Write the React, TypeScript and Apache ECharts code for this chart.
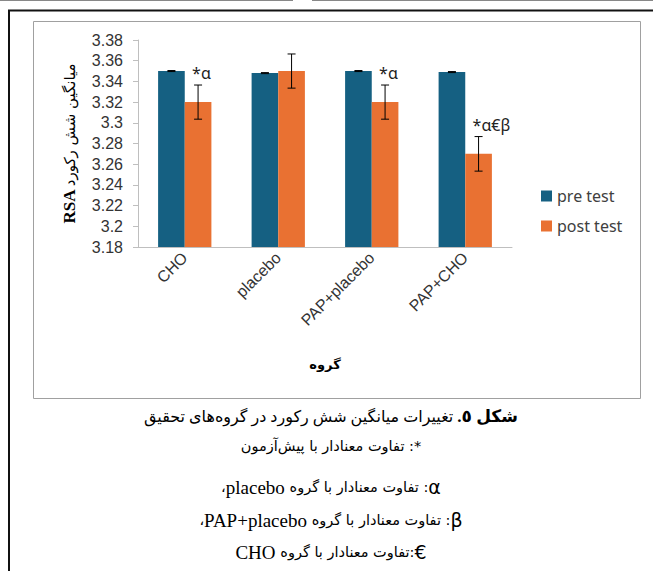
import React, { useEffect, useRef } from "react";
import * as echarts from "echarts";

const categories = ["CHO", "placebo", "PAP+placebo", "PAP+CHO"];
const preTest = [3.35, 3.348, 3.35, 3.349];
const postTest = [3.32, 3.35, 3.32, 3.27];
const preErr = [0.0005, 0.0005, 0.0005, 0.0005];
const postErr = [0.0165, 0.0165, 0.0165, 0.0167];
const postMarks = ["*α", "", "*α", "*α€β"];
const yMin = 3.18;
const yMax = 3.38;
const yStep = 0.02;
const seriesNames = ["pre test", "post test"];

const RLE = "\u202B";
const PDF = "\u202C";
const rtl = (s: string) => RLE + s + PDF;

const yTitlePersian = "میانگین شش رکورد";
const xTitle = "گروه";
const captionBold = "شکل ٥.";
const captionRest = "تغییرات میانگین شش رکورد در گروه\u200Cهای تحقیق";
const caption2 = "*: تفاوت معنادار با پیش\u200Cآزمون";
const diffWithGroup = "تفاوت معنادار با گروه";
// legend symbols and group names of the caption
const caption3 = { sym: "α", group: "placebo", tail: "،", sep: ": " };
const caption4 = { sym: "β", group: "PAP+placebo", tail: "،", sep: ": " };
const caption5 = { sym: "€", group: "CHO", tail: "", sep: ":" };

const BLUE = "#156082";
const ORANGE = "#E97132";
const CAT_GAP = 0.43;

const FA = "'DejaVu Sans'";
const SERIF = "'Liberation Serif', 'DejaVu Sans'";

export default function App() {
  const ref = useRef<HTMLDivElement>(null);

  useEffect(() => {
    document.body.style.margin = "0";
    if (!ref.current) return;
    const chart = echarts.init(ref.current, undefined, { renderer: "svg" });

    const makeErr = (vals: number[], errs: number[], side: number, marks?: string[]) => ({
      type: "custom",
      z: 5,
      silent: true,
      data: vals.map((v, i) => [i, v, errs[i]]),
      renderItem: (params: any, api: any) => {
        const idx = api.value(0);
        const v = api.value(1);
        const e = api.value(2);
        const band = api.size([1, 0])[0];
        const bw = (band * (1 - CAT_GAP)) / 2;
        const c = api.coord([idx, v]);
        const x = c[0] + (side ? bw / 2 : -bw / 2);
        const top = api.coord([idx, v + e])[1];
        const bot = api.coord([idx, v - e])[1];
        const cap = 4;
        const st = { stroke: "#000", lineWidth: 1 };
        const children: any[] = [
          { type: "line", shape: { x1: x, y1: top, x2: x, y2: bot }, style: st },
          { type: "line", shape: { x1: x - cap, y1: top, x2: x + cap, y2: top }, style: st },
          { type: "line", shape: { x1: x - cap, y1: bot, x2: x + cap, y2: bot }, style: st },
        ];
        const m = marks ? marks[params.dataIndex] : "";
        if (m) {
          children.push({
            type: "text",
            style: {
              text: m,
              x: x - 6,
              y: top - 4,
              textAlign: "left",
              textVerticalAlign: "bottom",
              fontSize: 16,
              fontFamily: "'Noto Sans', sans-serif",
              fill: "#222",
            },
          });
        }
        return { type: "group", children };
      },
    });

    const captionRich = {
      p: { fontSize: 14.5, fontFamily: FA, fill: "#000" },
      l: { fontSize: 19, fontFamily: SERIF, fill: "#000" },
      s: { fontSize: 19, fontFamily: "'DejaVu Sans'", fill: "#000" },
    };
    const groupLine = (c: { sym: string; group: string; tail: string; sep: string }) =>
      (c.tail ? "{p|" + c.tail + "}" : "") +
      "{l|" + c.group + " }" +
      "{p|" + rtl(c.sep + diffWithGroup) + "}" +
      "{s|" + c.sym + "}";

    const captionText = (text: string, y: number, rich: any) => ({
      type: "text",
      silent: true,
      style: {
        x: 331,
        y,
        text,
        textAlign: "center",
        textVerticalAlign: "middle",
        rich,
      },
    });

    const option: any = {
      animation: false,
      backgroundColor: "#fff",
      grid: { left: 138, right: 141, top: 40, bottom: 324, containLabel: false },
      legend: {
        data: seriesNames,
        orient: "vertical",
        left: 536,
        top: 183,
        itemWidth: 11,
        itemHeight: 11,
        itemGap: 14,
        icon: "rect",
        textStyle: { fontSize: 16, fontFamily: "'Noto Sans', sans-serif", color: "#404040" },
      },
      xAxis: {
        type: "category",
        data: categories,
        name: xTitle,
        nameLocation: "middle",
        nameGap: 111,
        nameTextStyle: { fontSize: 13, fontWeight: "bold", fontFamily: FA, color: "#000" },
        axisLine: { lineStyle: { color: "#bfbfbf" } },
        axisTick: { length: 5, lineStyle: { color: "#bfbfbf" } },
        axisLabel: { rotate: 45, fontSize: 16, margin: 8, color: "#333", fontFamily: "'Liberation Sans', Arial" },
        splitLine: { show: false },
      },
      yAxis: {
        type: "value",
        min: yMin,
        max: yMax,
        interval: yStep,
        name: "{b|RSA} {p|" + rtl(yTitlePersian) + "}",
        nameLocation: "middle",
        nameGap: 60,
        nameRotate: 90,
        nameTextStyle: {
          rich: {
            b: { fontSize: 17, fontWeight: "bold", fontFamily: "'Liberation Serif'", color: "#000" },
            p: { fontSize: 15, fontFamily: FA, color: "#000" },
          },
        },
        axisLine: { show: true, lineStyle: { color: "#bfbfbf" } },
        axisTick: { show: true, length: 5, lineStyle: { color: "#bfbfbf" } },
        axisLabel: {
          fontSize: 16,
          margin: 15,
          color: "#333",
          fontFamily: "'Liberation Sans', Arial",
          formatter: (v: number) => String(+v.toFixed(2)),
        },
        splitLine: { show: false },
      },
      series: [
        {
          name: seriesNames[0],
          type: "bar",
          data: preTest,
          barGap: "0%",
          barCategoryGap: CAT_GAP * 100 + "%",
          itemStyle: { color: BLUE },
        },
        {
          name: seriesNames[1],
          type: "bar",
          data: postTest,
          barGap: "0%",
          barCategoryGap: CAT_GAP * 100 + "%",
          itemStyle: { color: ORANGE },
        },
        makeErr(preTest, preErr, 0),
        makeErr(postTest, postErr, 1, postMarks),
      ],
      graphic: [
        { type: "line", silent: true, shape: { x1: 0, y1: 0.5, x2: 293, y2: 0.5 }, style: { stroke: "#888", lineWidth: 1 } },
        { type: "line", silent: true, shape: { x1: 312, y1: 0.5, x2: 653, y2: 0.5 }, style: { stroke: "#888", lineWidth: 1 } },
        { type: "line", silent: true, shape: { x1: 8, y1: 10.5, x2: 653, y2: 10.5 }, style: { stroke: "#111", lineWidth: 2 } },
        { type: "line", silent: true, shape: { x1: 9, y1: 10, x2: 9, y2: 571 }, style: { stroke: "#111", lineWidth: 2 } },
        {
          type: "rect",
          silent: true,
          shape: { x: 33.5, y: 21.5, width: 607, height: 377 },
          style: { fill: "none", stroke: "#a0a0a0", lineWidth: 1 },
        },
        captionText("{r|" + rtl(captionRest) + "}{g| }{b|" + rtl(captionBold) + "}", 416, {
          r: { fontSize: 16, fontFamily: SERIF, fill: "#000" },
          g: { fontSize: 16, fontFamily: SERIF, fill: "#000" },
          b: { fontSize: 17, fontWeight: "bold", fontFamily: SERIF, fill: "#000" },
        }),
        captionText("{p|" + rtl(caption2) + "}", 446, captionRich),
        captionText(groupLine(caption3), 487, captionRich),
        captionText(groupLine(caption4), 520, captionRich),
        captionText(groupLine(caption5), 552, captionRich),
      ],
    };

    chart.setOption(option);
    return () => chart.dispose();
  }, []);

  return <div ref={ref} style={{ width: 653, height: 571 }} />;
}
